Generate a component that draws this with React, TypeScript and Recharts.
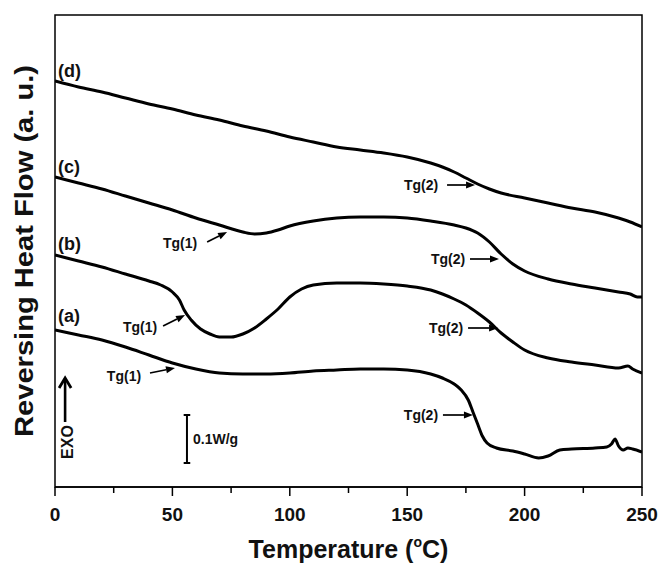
import {
  LineChart,
  Line,
  XAxis,
  YAxis,
  ReferenceArea,
  ReferenceDot,
  ReferenceLine,
} from "recharts"

// temperatures (°C) and reversing heat flow (a.u.)
const tempD = [0, 10, 20, 30, 40, 50, 60, 70, 80, 90, 100, 110, 120, 130, 140, 150, 160, 165, 170, 175, 180, 185, 190, 200, 210, 220, 230, 240, 245, 250]
const flowD = [406, 400, 395, 389, 383, 378, 372, 367, 361, 356, 350, 345, 340, 337, 334, 330, 324, 320, 315, 309, 303, 298, 294, 289, 284, 279, 275, 269, 265, 260]

const tempC = [0, 10, 20, 30, 40, 50, 60, 70, 80, 85, 90, 95, 100, 110, 120, 130, 140, 150, 160, 170, 175, 180, 185, 190, 195, 200, 210, 220, 230, 240, 245, 248, 250]
const flowC = [310, 304, 298, 291, 284, 277, 269, 262, 255, 253, 254, 257, 261, 266, 269, 270, 270, 269, 266, 262, 259, 254, 245, 233, 223, 216, 208, 203, 199, 195, 193, 190, 190]

const tempB = [0, 10, 20, 30, 40, 45, 50, 53, 55, 58, 62, 66, 70, 75, 80, 85, 90, 95, 100, 105, 110, 120, 130, 140, 150, 160, 165, 170, 175, 180, 185, 190, 195, 200, 210, 220, 230, 240, 244, 246, 250]
const flowB = [232, 226, 220, 213, 206, 202, 195, 187, 177, 167, 158, 153, 150, 150, 153, 159, 168, 178, 190, 198, 202, 204, 204, 203, 201, 197, 193, 188, 182, 174, 165, 154, 145, 137, 129, 125, 122, 119, 121, 118, 114]

const tempA = [0, 10, 20, 30, 40, 50, 60, 70, 80, 90, 100, 110, 120, 130, 140, 150, 160, 165, 170, 173, 176, 178, 180, 182, 184, 188, 195, 200, 206, 210, 215, 220, 230, 235, 237, 238.5, 240, 242, 244, 246, 250]
const flowA = [157, 152, 147, 140, 132, 124, 118, 114, 113, 113, 114, 116, 117, 118, 118, 117, 113, 109, 103, 97, 87, 75, 63, 51, 44, 39, 36, 33, 29, 31, 37, 38, 39, 40, 43, 48, 41, 37, 39, 38, 35]

const curveNames = ["(a)", "(b)", "(c)", "(d)"]
const curveTemps = [tempA, tempB, tempC, tempD]
const curveFlows = [flowA, flowB, flowC, flowD]

const xTicks = [0, 25, 50, 75, 100, 125, 150, 175, 200, 225, 250]

// Tg annotations: arrow tip in data coordinates
const tgLabels = ["Tg(2)", "Tg(2)", "Tg(2)", "Tg(2)", "Tg(1)", "Tg(1)", "Tg(1)"]
const tgTipTemp = [178.9, 189.1, 188.7, 178.0, 73.3, 55.4, 51.1]
const tgTipFlow = [302, 228, 159, 72, 255, 172, 119]

// scale bar and EXO arrow
const scaleBarTemp = 56.2
const scaleBarFlow = [24, 72]
const scaleBarLabel = "0.1W/g"
const exoTemp = 4.3
const exoFlow = [65, 109]

// pixel offsets of arrow tail / text from tip (layout only)
const tgOffsets = [
  { tx: -28, ty: 0, lx: -54, ly: 0 },
  { tx: -29, ty: 0, lx: -51, ly: 0 },
  { tx: -30, ty: 0, lx: -52, ly: 0 },
  { tx: -30, ty: 0, lx: -52, ly: 0 },
  { tx: -20, ty: 10, lx: -47, ly: 11 },
  { tx: -22, ty: 11, lx: -45, ly: 12 },
  { tx: -25, ty: 5, lx: -51, ly: 8 },
]
const nameOffsets = [-8, -5, -4, -4]

const FONT = '"Liberation Sans", Arial, Helvetica, sans-serif'

function arrowHead(x1: number, y1: number, x2: number, y2: number, len: number, half: number) {
  const a = Math.atan2(y2 - y1, x2 - x1)
  const bx = x2 - len * Math.cos(a)
  const by = y2 - len * Math.sin(a)
  const px = -Math.sin(a) * half
  const py = Math.cos(a) * half
  return {
    base: [bx, by],
    points: `${x2},${y2} ${bx + px},${by + py} ${bx - px},${by - py}`,
  }
}

function TgShape(props: any) {
  const { cx, cy, idx } = props
  const o = tgOffsets[idx]
  const x1 = cx + o.tx
  const y1 = cy + o.ty
  const head = arrowHead(x1, y1, cx, cy, 9, 3.5)
  return (
    <g>
      <line x1={x1} y1={y1} x2={head.base[0]} y2={head.base[1]} stroke="#000" strokeWidth={1.7} />
      <polygon points={head.points} fill="#000" />
      <text
        x={cx + o.lx}
        y={cy + o.ly + 5}
        textAnchor="middle"
        fontFamily={FONT}
        fontWeight="bold"
        fontSize={14}
        fill="#111"
      >
        {tgLabels[idx]}
      </text>
    </g>
  )
}

function NameShape(props: any) {
  const { cx, cy, idx } = props
  return (
    <text x={cx + 3} y={cy + nameOffsets[idx]} fontFamily={FONT} fontWeight="bold" fontSize={18} fill="#111">
      {curveNames[idx]}
    </text>
  )
}

function ExoShape(props: any) {
  const { cx, cy } = props
  return (
    <text
      x={cx + 8}
      y={cy}
      transform={`rotate(-90 ${cx + 8} ${cy})`}
      textAnchor="middle"
      fontFamily={FONT}
      fontWeight="bold"
      fontSize={16}
      fill="#111"
    >
      EXO
    </text>
  )
}

function ExoArrow(props: any) {
  const { cx, cy, bottom } = props
  return (
    <g>
      <line x1={cx} y1={bottom} x2={cx} y2={cy + 2} stroke="#000" strokeWidth={2.6} />
      <polyline
        points={`${cx - 6},${cy + 10} ${cx},${cy} ${cx + 6},${cy + 10}`}
        fill="none"
        stroke="#000"
        strokeWidth={2.8}
      />
    </g>
  )
}

function ScaleLabel(props: any) {
  const { cx, cy } = props
  return (
    <text x={cx + 6} y={cy + 5} fontFamily={FONT} fontWeight="bold" fontSize={14} fill="#111">
      {scaleBarLabel}
    </text>
  )
}

function XTick(props: any) {
  const { x, y, payload } = props
  const major = payload.value % 50 === 0
  return (
    <g>
      <line x1={x} y1={y} x2={x} y2={y + (major ? 9 : 6)} stroke="#000" strokeWidth={1.5} />
      {major && (
        <text x={x} y={y + 34} textAnchor="middle" fontFamily={FONT} fontWeight="bold" fontSize={19} fill="#111">
          {payload.value}
        </text>
      )}
    </g>
  )
}

function XTitle(props: any) {
  const { viewBox } = props
  const cx = viewBox.x + viewBox.width / 2
  return (
    <text x={cx} y={viewBox.y + 71} textAnchor="middle" fontFamily={FONT} fontWeight="bold" fontSize={25} fill="#111">
      Temperature (<tspan fontSize={14} dy={-11}>o</tspan>
      <tspan dy={11}>C)</tspan>
    </text>
  )
}

function YTitle(props: any) {
  const { viewBox } = props
  const x = viewBox.x + 33
  const y = viewBox.y + viewBox.height / 2
  return (
    <text
      x={x}
      y={y}
      transform={`rotate(-90 ${x} ${y})`}
      textAnchor="middle"
      fontFamily={FONT}
      fontWeight="bold"
      fontSize={26}
      textLength={372}
      lengthAdjust="spacingAndGlyphs"
      fill="#111"
    >
      Reversing Heat Flow (a. u.)
    </text>
  )
}

export default function App() {
  const series = curveTemps.map((temps, i) => temps.map((t, j) => ({ t, v: curveFlows[i][j] })))

  return (
    <div style={{ position: "absolute", left: 0, top: 0, background: "#fff" }}>
      <LineChart width={670} height={576} margin={{ top: 15, right: 28, bottom: 0, left: 0 }}>
        <XAxis
          type="number"
          dataKey="t"
          domain={[0, 250]}
          ticks={xTicks}
          allowDataOverflow
          interval={0}
          tickSize={0}
          tickMargin={0}
          tickLine={false}
          tick={<XTick />}
          axisLine={{ stroke: "#000", strokeWidth: 1.5 }}
          height={89}
          label={<XTitle />}
        />
        <YAxis
          type="number"
          domain={[0, 472]}
          allowDataOverflow
          width={55}
          tick={false}
          tickLine={false}
          axisLine={false}
          label={<YTitle />}
        />
        <ReferenceArea
          x1={0}
          x2={250}
          y1={0}
          y2={472}
          fill="none"
          fillOpacity={0}
          stroke="#000"
          strokeWidth={1.5}
          ifOverflow="visible"
        />
        {series.map((data, i) => (
          <Line
            key={curveNames[i]}
            data={data}
            dataKey="v"
            type="monotone"
            stroke="#000"
            strokeWidth={3}
            dot={false}
            activeDot={false}
            isAnimationActive={false}
          />
        ))}
        {series.map((data, i) => (
          <ReferenceDot
            key={"n" + i}
            x={data[0].t}
            y={data[0].v}
            ifOverflow="visible"
            shape={(p: any) => <NameShape {...p} idx={i} />}
          />
        ))}
        {tgLabels.map((_, i) => (
          <ReferenceDot
            key={"tg" + i}
            x={tgTipTemp[i]}
            y={tgTipFlow[i]}
            ifOverflow="visible"
            shape={(p: any) => <TgShape {...p} idx={i} />}
          />
        ))}
        <ReferenceLine
          segment={[
            { x: scaleBarTemp, y: scaleBarFlow[0] },
            { x: scaleBarTemp, y: scaleBarFlow[1] },
          ]}
          stroke="#000"
          strokeWidth={2}
        />
        {scaleBarFlow.map((v) => (
          <ReferenceLine
            key={"cap" + v}
            segment={[
              { x: scaleBarTemp - 1.4, y: v },
              { x: scaleBarTemp + 1.4, y: v },
            ]}
            stroke="#000"
            strokeWidth={2}
          />
        ))}
        <ReferenceDot
          x={scaleBarTemp}
          y={(scaleBarFlow[0] + scaleBarFlow[1]) / 2}
          ifOverflow="visible"
          shape={(p: any) => <ScaleLabel {...p} />}
        />
        <ReferenceDot
          x={exoTemp}
          y={exoFlow[0] - 20}
          ifOverflow="visible"
          shape={(p: any) => <ExoShape {...p} />}
        />
        <ReferenceDot
          x={exoTemp}
          y={exoFlow[1]}
          ifOverflow="visible"
          shape={(p: any) => <ExoArrow {...p} bottom={p.cy + (exoFlow[1] - exoFlow[0])} />}
        />
      </LineChart>
    </div>
  )
}
